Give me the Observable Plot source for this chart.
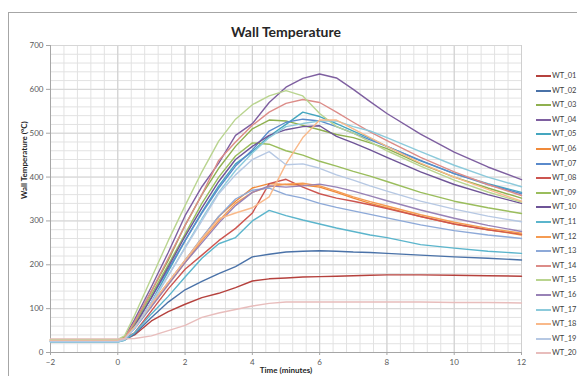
<!DOCTYPE html>
<html>
<head>
<meta charset="utf-8">
<script src="https://cdn.jsdelivr.net/npm/d3@7"></script>
<script src="https://cdn.jsdelivr.net/npm/@observablehq/plot@0.6"></script>
<style>
  html, body { margin: 0; padding: 0; background: #fff; }
  #wrap { position: relative; width: 577px; height: 376px; overflow: hidden; background: #fff; font-family: Lato, "Open Sans", sans-serif; }
  #frame { position: absolute; left: 8px; top: 12px; width: 620px; height: 420px; border: 1px solid #a6a6a6; box-sizing: border-box; }
  #chart { position: absolute; left: 0; top: 0; }
  #legend { position: absolute; left: 536px; top: 0; }
  .lg { position: absolute; left: 0; height: 10px; white-space: nowrap; font-size: 7.5px; color: #404040; line-height: 10px; }
  .lg span.sw { position: absolute; left: 0; top: 4px; width: 15px; height: 0; border-top: 2px solid; }
  .lg span.tx { position: absolute; left: 16px; top: 0; }
</style>
</head>
<body>
<div id="wrap">
  <div id="frame"></div>
  <div id="chart"></div>
  <div id="legend"></div>
</div>
<script>
const chartTitle = "Wall Temperature";
const xTitle = "Time (minutes)";
const yTitle = "Wall Temperature (°C)";
const xTicks = [-2, 0, 2, 4, 6, 8, 10, 12];
const yTicks = [0, 100, 200, 300, 400, 500, 600, 700];

const times = [-2, 0, 0.2, 0.5, 1, 1.5, 2, 2.5, 3, 3.5, 4, 4.5, 5, 5.5, 6, 6.5, 7, 7.5, 8, 9, 10, 11, 12];

const seriesNames = ["WT_01","WT_02","WT_03","WT_04","WT_05","WT_06","WT_07","WT_08","WT_09","WT_10",
                     "WT_11","WT_12","WT_13","WT_14","WT_15","WT_16","WT_17","WT_18","WT_19","WT_20"];
const seriesColors = ["#B5413D","#4A72A8","#8FB04F","#7E5FA0","#45A6BF","#F08A3A","#5A8ACB","#CC5550","#9ABD5C","#6E5497",
                      "#5BB5CC","#F59B52","#8DA9D8","#DC8C88","#B9D48F","#9882B6","#8CCADB","#F9B98A","#B6C8E3","#E8BDBC"];

const WT_01 = [29,29,30,40,72,93,110,125,135,148,163,168,170,172,173,174,175,176,177,177,176,175,174];
const WT_02 = [26,26,28,42,80,115,143,162,180,196,218,224,229,231,232,231,229,228,226,222,218,215,211];
const WT_03 = [29,29,35,68,140,210,290,360,420,470,510,530,528,518,508,497,490,478,465,430,400,375,352];
const WT_04 = [28,28,35,75,150,228,312,378,432,495,522,570,605,625,635,626,600,572,545,498,457,423,394];
const WT_05 = [25,25,30,55,115,185,255,320,380,430,458,493,520,548,538,522,505,488,470,437,408,385,365];
const WT_06 = [27,27,33,60,110,160,210,260,310,345,375,385,383,382,377,365,352,340,330,310,293,280,268];
const WT_07 = [26,26,32,62,125,190,255,318,375,425,462,505,525,532,528,515,500,485,470,438,408,383,362];
const WT_08 = [29,29,32,45,95,145,190,222,255,283,318,385,395,377,362,352,345,337,328,310,293,280,270];
const WT_09 = [28,28,34,66,132,200,270,340,400,448,478,475,460,450,436,425,413,402,390,365,345,330,317];
const WT_10 = [26,26,31,60,125,195,265,330,390,440,470,495,508,515,517,493,478,462,445,412,383,360,340];
const WT_11 = [24,24,28,45,88,128,172,215,248,262,300,324,312,302,293,284,276,268,262,246,238,231,226];
const WT_12 = [28,28,33,58,105,155,205,255,300,340,365,378,384,386,380,368,355,344,334,314,297,283,272];
const WT_13 = [25,25,30,55,105,158,210,262,310,350,370,375,360,352,340,331,323,315,307,291,278,268,260];
const WT_14 = [27,27,33,70,140,215,290,360,438,480,518,548,568,577,570,548,525,503,483,445,412,383,358];
const WT_15 = [30,30,38,85,170,255,335,412,482,532,565,585,597,585,545,515,500,480,460,425,393,366,343];
const WT_16 = [26,26,31,55,105,155,205,250,295,335,365,380,377,380,384,377,368,357,346,325,306,290,276];
const WT_17 = [24,24,29,55,110,175,240,305,365,415,455,490,515,522,528,528,515,505,490,458,427,400,378];
const WT_18 = [27,27,32,58,110,160,210,260,305,318,330,355,430,490,530,530,510,490,470,432,400,372,345];
const WT_19 = [25,25,30,55,115,175,238,300,362,405,440,458,428,430,420,405,393,380,368,345,327,311,298];
const WT_20 = [31,31,31,32,38,50,62,80,90,98,106,112,115,115,115,115,115,115,115,115,114,114,113];

const allSeries = [WT_01,WT_02,WT_03,WT_04,WT_05,WT_06,WT_07,WT_08,WT_09,WT_10,
                   WT_11,WT_12,WT_13,WT_14,WT_15,WT_16,WT_17,WT_18,WT_19,WT_20];

const rows = [];
allSeries.forEach((vals, i) => {
  vals.forEach((v, j) => rows.push({name: seriesNames[i], t: times[j], v}));
});

const xMinor = d3.range(-2, 12.001, 0.4).map(d => +d.toFixed(2));
const yMinor = d3.range(0, 701, 20);

const plot = Plot.plot({
  width: 577,
  height: 376,
  marginLeft: 50,
  marginRight: 56,
  marginTop: 45,
  marginBottom: 24,
  style: {fontFamily: "Lato, 'Open Sans', sans-serif", background: "transparent", overflow: "visible"},
  x: {domain: [-2, 12]},
  y: {domain: [0, 700]},
  color: {domain: seriesNames, range: seriesColors},
  marks: [
    Plot.ruleX(xMinor, {stroke: "#e2e2e2", strokeWidth: 1}),
    Plot.ruleY(yMinor, {stroke: "#e2e2e2", strokeWidth: 1}),
    Plot.ruleX(xTicks, {stroke: "#cfcfcf", strokeWidth: 1}),
    Plot.ruleY(yTicks, {stroke: "#d6d6d6", strokeWidth: 1}),
    Plot.ruleX([-2], {stroke: "#a6a6a6"}),
    Plot.ruleY([0], {stroke: "#a6a6a6"}),
    Plot.line(rows, {x: "t", y: "v", z: "name", stroke: "name", strokeWidth: 1.4, curve: "linear"}),
    Plot.axisX({ticks: xTicks, tickSize: 3, tickPadding: 4, stroke: "#a6a6a6", label: null, fontSize: 8, fill: "#595959"}),
    Plot.axisY({ticks: yTicks, tickSize: 4, tickPadding: 3, stroke: "#a6a6a6", label: null, fontSize: 8, fill: "#595959"}),
    Plot.text([yTitle], {frameAnchor: "left", dx: -26, rotate: -90, fontWeight: "bold", fontSize: 8, fill: "#262626"}),
    Plot.text([xTitle], {frameAnchor: "bottom", dy: 20, fontWeight: "bold", fontSize: 8, fill: "#262626"}),
    Plot.text([chartTitle], {frameAnchor: "top", dy: -18, fontWeight: "bold", fontSize: 14, fill: "#262626"})
  ]
});
document.getElementById("chart").appendChild(plot);

const legend = document.getElementById("legend");
seriesNames.forEach((name, i) => {
  const d = document.createElement("div");
  d.className = "lg";
  d.style.top = (71 + i * 14.6) + "px";
  d.innerHTML = `<span class="sw" style="border-color:${seriesColors[i]}"></span><span class="tx">${name}</span>`;
  legend.appendChild(d);
});
</script>
</body>
</html>
